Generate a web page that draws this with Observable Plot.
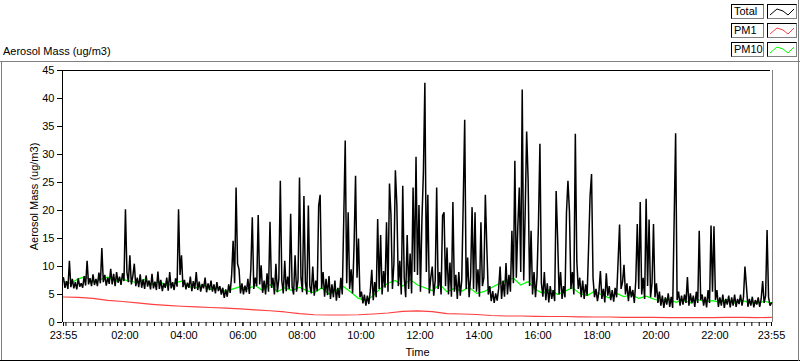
<!DOCTYPE html>
<html><head><meta charset="utf-8">
<script src="https://cdn.jsdelivr.net/npm/d3@7"></script>
<script src="https://cdn.jsdelivr.net/npm/@observablehq/plot@0.6"></script>
<style>
html,body{margin:0;padding:0;background:#fff;}
#wrap{position:relative;width:800px;height:361px;overflow:hidden;font-family:"Liberation Sans",Arial,sans-serif;font-size:11px;color:#000;}
#chart{position:absolute;left:0;top:0;}
#chart svg{display:block;}
.title{position:absolute;left:3px;top:45px;white-space:nowrap;}
.lgbox{position:absolute;box-sizing:border-box;height:15px;border:1px solid;border-color:#000 #808080 #808080 #000;background:#fff;line-height:13px;padding-left:2px;white-space:nowrap;}
.lgbox svg{position:absolute;left:0;top:0;}
</style>
</head><body>
<div id="wrap">
  <div id="chart"></div>
  <div class="title" id="title"></div>
  <div id="legend"></div>
</div>
<script>
// ---- data ----
const titleText = "Aerosol Mass (ug/m3)";
const yLabel = "Aerosol Mass (ug/m3)";
const xLabel = "Time";
const seriesNames = ["Total", "PM1", "PM10"];
const seriesColors = ["#000000", "#ff4040", "#00ff00"];
const xTickLabels = ["23:55","02:00","04:00","06:00","08:00","10:00","12:00","14:00","16:00","18:00","20:00","22:00","23:55"];
const yTickValues = [0,5,10,15,20,25,30,35,40,45];

// Total, one value every 3 minutes starting 23:55 (20 values per hour)
const totalStep = 3;
const totalValues = [
  8.0,6.2,7.4,6.0,11.0,6.3,7.8,6.1,7.2,5.9,7.9,6.4,7.0,6.2,8.3,6.6,11.0,6.8,7.9,6.5,
  8.6,6.7,7.8,6.5,8.9,7.0,13.3,7.2,8.5,6.6,8.0,6.9,9.6,6.8,8.7,6.5,9.0,7.1,8.2,6.7,
  8.8,7.4,20.2,9.0,7.2,12.0,6.8,8.3,10.5,6.5,8.0,6.3,8.6,6.2,7.7,6.0,8.4,6.4,7.5,5.9,
  8.7,6.1,7.3,5.8,9.1,6.0,7.6,5.6,7.0,6.2,8.0,5.7,9.0,6.1,7.2,5.8,7.9,6.4,20.2,8.5,
  12.0,6.3,7.6,5.9,7.1,6.2,8.2,5.6,7.4,6.0,9.0,5.8,7.3,5.5,6.9,6.1,8.0,5.4,7.0,5.8,
  7.5,5.5,6.8,5.2,7.2,5.6,6.5,5.0,6.2,4.4,5.9,4.6,6.8,5.3,8.5,14.6,7.0,24.1,10.5,9.5,
  5.2,7.0,5.0,6.6,5.4,7.8,5.1,9.5,18.8,6.0,8.0,6.5,19.2,6.8,10.2,5.3,7.5,5.0,8.8,5.5,
  18.0,6.2,8.0,5.0,10.5,5.4,7.8,25.3,7.5,5.2,11.0,5.6,8.2,6.0,19.4,6.3,5.0,12.0,5.5,7.6,
  25.9,8.0,5.4,22.6,7.2,5.0,20.9,6.5,5.2,10.0,4.8,7.5,5.6,20.9,22.8,6.0,9.0,4.6,7.8,4.9,
  8.3,4.2,6.8,4.5,7.5,3.9,6.2,4.4,8.0,5.0,18.5,32.5,7.0,19.7,6.0,9.5,5.2,13.8,26.2,8.0,
  15.0,4.5,5.5,3.4,5.0,3.0,4.8,3.3,5.6,9.4,4.0,7.2,4.5,18.5,6.0,15.6,5.0,9.2,6.2,17.9,
  5.5,24.8,19.3,6.0,10.5,27.2,21.0,6.5,11.0,5.0,24.4,8.0,4.5,15.6,6.0,12.3,5.2,24.1,9.0,29.6,
  8.5,21.0,5.5,18.3,26.8,42.8,9.0,22.8,5.2,8.0,10.0,4.8,7.5,24.1,6.0,9.0,5.0,19.1,19.7,6.5,
  13.4,5.0,10.7,4.6,21.5,5.5,8.5,4.2,9.0,4.8,7.5,21.3,36.2,6.0,11.6,4.5,8.0,20.6,6.0,19.7,
  5.5,9.5,4.6,17.9,6.5,8.0,22.8,13.4,5.0,6.5,3.8,5.6,3.5,5.2,3.9,6.0,10.0,4.2,7.5,4.6,
  10.6,5.0,8.5,5.5,16.4,7.0,28.9,8.0,17.0,24.1,9.0,41.6,7.5,19.6,34.1,25.5,6.5,16.4,5.0,9.0,
  4.5,8.0,17.5,31.9,7.0,4.6,9.0,4.0,7.0,3.6,6.5,4.2,5.8,3.8,23.5,15.0,5.0,9.0,4.2,6.5,
  4.5,19.6,25.3,19.9,6.0,9.0,5.0,33.7,11.0,6.0,8.0,4.5,7.5,4.2,6.8,4.8,13.4,22.6,26.5,8.0,
  4.5,6.0,3.8,5.5,9.2,4.2,6.0,3.6,8.8,4.8,6.5,4.0,5.8,3.7,6.2,4.5,11.0,17.5,6.0,7.2,
  10.3,5.0,7.0,3.8,6.5,4.5,5.8,3.5,7.5,17.6,6.0,21.5,5.0,8.0,4.2,22.1,6.5,18.4,4.5,7.0,
  17.6,4.5,7.0,3.5,5.5,3.0,4.8,2.6,4.5,3.2,5.2,2.8,4.6,2.6,18.2,33.8,4.0,5.5,3.0,4.8,
  3.2,5.0,3.5,8.1,3.0,5.2,3.4,4.8,2.8,5.5,3.5,16.4,4.0,5.0,3.0,4.6,2.7,5.8,3.5,17.3,
  5.5,17.2,4.0,5.8,2.8,4.5,3.0,5.0,2.6,4.2,3.2,4.8,2.7,4.5,3.0,5.0,2.8,4.2,3.3,5.0,
  3.0,4.5,10.0,6.5,2.8,4.2,3.0,4.6,2.7,4.0,3.2,4.5,2.8,4.2,7.4,3.5,4.8,16.5,4.5,3.0,3.5
];

// PM10, one value every 15 minutes starting 23:55
const pm10Step = 15;
const pm10Values = [
  7.3, 7.0, 7.8, 8.2, 7.2, 7.7, 8.1, 7.4, 7.7,
  7.4, 7.1, 7.7, 6.8, 7.3, 6.6, 7.0, 7.4,
  6.4, 6.2, 6.7, 5.9, 6.2, 5.5, 6.0, 6.4,
  6.0, 6.6, 5.7, 6.8, 5.5, 6.2, 5.7, 6.3,
  5.7, 5.3, 6.2, 5.1, 5.8, 6.4, 5.4, 4.3,
  3.9, 4.8, 6.1, 7.0, 7.5, 6.5, 7.7, 6.7,
  6.2, 5.7, 6.8, 5.5, 6.1, 5.6, 6.3, 5.2,
  5.5, 6.2, 6.9, 7.5, 7.9, 6.7, 7.3, 5.9,
  5.2, 5.9, 5.0, 5.6, 6.2, 5.2, 4.8, 5.6,
  4.9, 4.4, 5.2, 4.6, 5.0, 4.3, 4.7, 4.2,
  3.8, 4.3, 3.6, 4.0, 3.5, 4.1, 3.7, 3.9,
  3.6, 4.1, 3.5, 3.9, 3.6, 3.4, 3.8, 3.5
];

// PM1, one value every 30 minutes starting 23:55
const pm1Step = 30;
const pm1Values = [
  4.55, 4.50, 4.30, 3.95, 3.75, 3.50, 3.25, 3.05, 2.90, 2.78, 2.68, 2.55, 2.42, 2.24, 2.10, 1.88,
  1.60, 1.38, 1.34, 1.34, 1.38, 1.52, 1.70, 1.97, 2.06, 1.93, 1.60, 1.52, 1.43, 1.25, 1.16, 1.16,
  1.10, 1.07, 1.07, 1.02, 0.98, 0.98, 0.93, 0.90, 0.90, 0.86, 0.86, 0.86, 0.86, 0.90, 0.90, 0.86, 0.93
];

// ---- build ----
const toRows = (vals, step) => vals.map((v, i) => ({t: i * step, v}));
const totalRows = toRows(totalValues, totalStep);
const pm10Rows = toRows(pm10Values, pm10Step);
const pm1Rows = toRows(pm1Values, pm1Step);

const startMin = 23 * 60 + 55;
const clockToOffset = (s, i) => {
  const [h, m] = s.split(":").map(Number);
  const off = ((h * 60 + m) - startMin + 1440) % 1440;
  return (i === xTickLabels.length - 1 && off === 0) ? 1440 : off;
};
const majorTicks = xTickLabels.map(clockToOffset);
const labelByOffset = new Map(majorTicks.map((t, i) => [t, xTickLabels[i]]));
const minorTicks = d3.range(5, 1441, 15);

const chart = Plot.plot({
  width: 800, height: 361,
  marginLeft: 63, marginRight: 29, marginTop: 70, marginBottom: 39,
  style: {fontFamily: '"Liberation Sans", Arial, sans-serif', fontSize: "11px", color: "#000", background: "transparent", overflow: "visible"},
  x: {domain: [0, 1440]},
  y: {domain: [0, 45]},
  marks: [
    Plot.ruleY([45], {stroke: "#000", strokeWidth: 1, dx: -1}),
    Plot.ruleX([0], {stroke: "#000", strokeWidth: 1, dx: -1}),
    Plot.ruleY([0], {stroke: "#808080", strokeWidth: 1}),
    Plot.ruleX([1440], {stroke: "#808080", strokeWidth: 1, dx: 1}),
    Plot.line(pm10Rows, {x: "t", y: "v", stroke: seriesColors[2], strokeWidth: 1.2}),
    Plot.line(totalRows, {x: "t", y: "v", stroke: seriesColors[0], strokeWidth: 1.5, strokeLinejoin: "miter", strokeMiterlimit: 2}),
    Plot.line(pm1Rows, {x: "t", y: "v", stroke: seriesColors[1], strokeWidth: 1.2}),
    Plot.axisY({ticks: yTickValues, tickSize: 5, tickPadding: 3, dx: -1, label: yLabel, labelAnchor: "center", labelOffset: 33, labelArrow: "none", stroke: "#000"}),
    Plot.axisX({ticks: minorTicks, tickSize: 4, tickFormat: () => "", label: null, stroke: "#000"}),
    Plot.axisX({ticks: majorTicks, tickSize: 4, tickPadding: 5, tickFormat: d => labelByOffset.get(d), label: xLabel, labelAnchor: "center", labelOffset: 33, labelArrow: "none", stroke: "#000"})
  ]
});
document.getElementById("chart").appendChild(chart);

// panel borders
const svg = d3.select(chart);
const deco = svg.append("g").attr("shape-rendering", "crispEdges");
deco.append("line").attr("x1", 0).attr("x2", 800).attr("y1", 61.5).attr("y2", 61.5).attr("stroke", "#808080");
deco.append("line").attr("x1", 1.5).attr("x2", 1.5).attr("y1", 61).attr("y2", 361).attr("stroke", "#808080");
deco.append("line").attr("x1", 0).attr("x2", 800).attr("y1", 360.5).attr("y2", 360.5).attr("stroke", "#000");
deco.append("line").attr("x1", 798.5).attr("x2", 798.5).attr("y1", 0).attr("y2", 361).attr("stroke", "#808080");

document.getElementById("title").textContent = titleText;

// legend
const legend = document.getElementById("legend");
seriesNames.forEach((name, i) => {
  const top = 4 + i * 19;
  const lab = document.createElement("div");
  lab.className = "lgbox";
  lab.style.left = "731px"; lab.style.top = top + "px"; lab.style.width = "33px";
  lab.textContent = name;
  legend.appendChild(lab);
  const sw = document.createElement("div");
  sw.className = "lgbox";
  sw.style.left = "767px"; sw.style.top = top + "px"; sw.style.width = "30px";
  sw.innerHTML = `<svg width="28" height="13"><polyline points="2,10 9,4 15,6 20,10 26,4" fill="none" stroke="${seriesColors[i]}" stroke-width="1"/></svg>`;
  legend.appendChild(sw);
});
</script>
</body></html>
